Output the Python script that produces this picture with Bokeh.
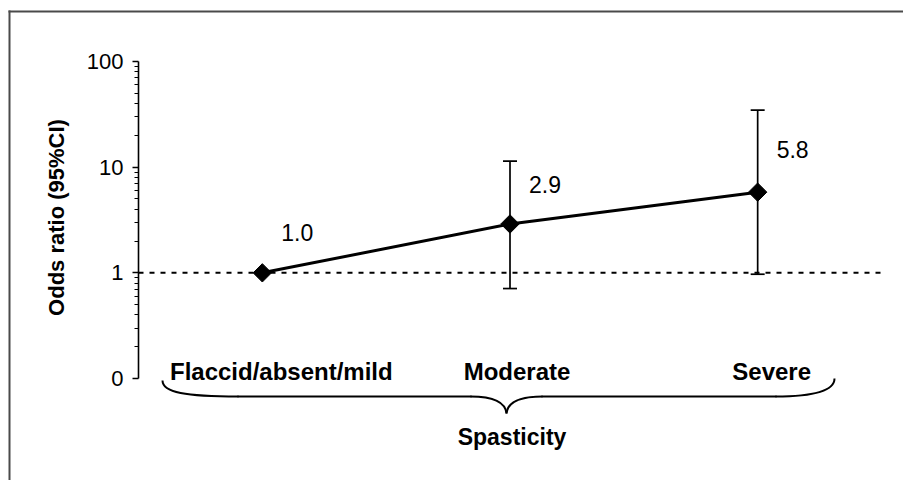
import math
from bokeh.plotting import figure
from bokeh.models import (Range1d, FixedTicker, Whisker, TeeHead,
                          ColumnDataSource)
from bokeh.core.properties import value
from bokeh.embed import file_html
from bokeh.resources import INLINE

# ---------------- data ----------------
categories = ["Flaccid/absent/mild", "Moderate", "Severe"]
odds_ratio = [1.0, 2.9, 5.8]
ci_lower = [1.0, 0.71, 0.97]
ci_upper = [1.0, 11.4, 34.6]
y_ticks = [0.1, 1, 10, 100]
y_tick_labels = ["0", "1", "10", "100"]
y_minor = [0.2, 0.3, 0.4, 0.5, 0.6, 0.7, 0.8, 0.9,
           2, 3, 4, 5, 6, 7, 8, 9, 20, 30, 40, 50, 60, 70, 80, 90]
reference_or = 1.0
x_title = "Spasticity"
y_title = "Odds ratio (95%CI)"

# ---------------- layout (pixels) ----------------
W, H = 903, 480
CAT_L, CAT_R = 138, 881              # pixel extent of the category band
Y_TOP_TICK, Y_BOT_TICK = 61, 378      # pixel y of 100 and 0.1
DEC = (Y_BOT_TICK - Y_TOP_TICK) / 3.0
NCAT = len(categories)


def x_of_px(px):
    return (px - CAT_L) / (CAT_R - CAT_L) * NCAT


def y_of_px(py):
    return 10 ** (math.log10(y_ticks[-1]) - (py - Y_TOP_TICK) / DEC)


FONT = value("Liberation Sans")

p = figure(width=W, height=H,
           x_range=Range1d(x_of_px(0), x_of_px(W)),
           y_range=Range1d(y_of_px(H), y_of_px(0)),
           y_axis_type="log", x_axis_type=None,
           output_backend="svg", toolbar_location=None,
           min_border_left=0, min_border_right=0,
           min_border_top=0, min_border_bottom=0)
p.outline_line_color = None
p.ygrid.visible = False
p.background_fill_color = "white"
p.border_fill_color = "white"

# y axis, pinned at the left edge of the category band
ax = p.yaxis[0]
ax.fixed_location = 0
ax.ticker = FixedTicker(ticks=y_ticks, minor_ticks=y_minor)
ax.major_label_overrides = {t: l for t, l in zip(y_ticks, y_tick_labels)}
ax.bounds = (y_ticks[0], y_ticks[-1])
ax.axis_line_width = 1.6
ax.axis_line_color = "black"
ax.major_tick_in = 0
ax.major_tick_out = 6
ax.minor_tick_in = 0
ax.minor_tick_out = 4
ax.major_tick_line_width = 1.4
ax.minor_tick_line_width = 1.2
ax.major_label_standoff = 9
ax.major_label_text_font = "Liberation Sans"
ax.major_label_text_font_size = "22px"
ax.major_label_text_color = "black"

# outer frame: only its top and left edges fall inside the picture
p.segment(x0=[x_of_px(9), x_of_px(8)], y0=[y_of_px(10), y_of_px(11)],
          x1=[x_of_px(9), x_of_px(W)], y1=[y_of_px(H), y_of_px(11)],
          line_color="#4a4a4a", line_width=2, line_cap="butt")

# reference line at OR = 1
p.segment(x0=[0], x1=[NCAT], y0=[reference_or], y1=[reference_or],
          line_color="black", line_width=2, line_dash="5 6")

xs = [i + 0.5 for i in range(NCAT)]

# error bars
eb = [(x, lo, hi) for x, lo, hi in zip(xs, ci_lower, ci_upper) if hi > lo]
err_src = ColumnDataSource(dict(x=[e[0] for e in eb], lo=[e[1] for e in eb],
                                hi=[e[2] for e in eb]))
p.add_layout(Whisker(source=err_src, base="x", lower="lo", upper="hi",
                     dimension="height", line_width=1.7, line_color="black",
                     upper_head=TeeHead(size=14, line_width=1.7, line_color="black"),
                     lower_head=TeeHead(size=14, line_width=1.7, line_color="black")))

src = ColumnDataSource(dict(x=xs, y=odds_ratio,
                            lab=[f"{v:.1f}" for v in odds_ratio],
                            dy=[-40, -39, -43]))
p.line("x", "y", source=src, line_width=3, line_color="black")
p.scatter("x", "y", source=src, marker="square", angle=math.pi / 4, size=13,
          fill_color="black", line_color="black")
p.text("x", "y", text="lab", source=src, x_offset=19, y_offset="dy",
       text_align="left", text_baseline="middle", text_font=FONT,
       text_font_size="23px", text_color="black")

# category labels
cat_src = ColumnDataSource(dict(x=xs, y=[y_of_px(371)] * NCAT, t=categories,
                                dx=[19, 7, 14]))
p.text("x", "y", text="t", source=cat_src, x_offset="dx", text_align="center",
       text_baseline="middle", text_font=FONT, text_font_size="24px",
       text_font_style="bold", text_color="black")

# curly brace grouping the categories
curves = [  # (start, c0, c1, end) in pixels
    ((162, 380), (162, 392), (185, 396), (238, 396)),
    ((470, 396), (495, 396), (505, 403), (506, 413)),
    ((506, 413), (507, 403), (517, 396), (542, 396)),
    ((775, 396), (815, 396), (834, 390), (834, 378)),
]
bz = dict(x0=[], y0=[], cx0=[], cy0=[], cx1=[], cy1=[], x1=[], y1=[])
for s, c0, c1, e in curves:
    bz["x0"].append(x_of_px(s[0])); bz["y0"].append(y_of_px(s[1]))
    bz["cx0"].append(x_of_px(c0[0])); bz["cy0"].append(y_of_px(c0[1]))
    bz["cx1"].append(x_of_px(c1[0])); bz["cy1"].append(y_of_px(c1[1]))
    bz["x1"].append(x_of_px(e[0])); bz["y1"].append(y_of_px(e[1]))
p.bezier(source=ColumnDataSource(bz), x0="x0", y0="y0", x1="x1", y1="y1",
         cx0="cx0", cy0="cy0", cx1="cx1", cy1="cy1",
         line_color="black", line_width=2)
p.segment(x0=[x_of_px(237), x_of_px(541)], y0=[y_of_px(396)] * 2,
          x1=[x_of_px(471), x_of_px(776)], y1=[y_of_px(396)] * 2,
          line_color="black", line_width=2)

p.text(x=[NCAT / 2], y=[y_of_px(436)], text=[x_title], x_offset=2,
       text_align="center", text_baseline="middle", text_font=FONT,
       text_font_size="23px", text_font_style="bold", text_color="black")

# y axis title
p.text(x=[x_of_px(56)], y=[y_of_px(217)], text=[y_title], angle=math.pi / 2,
       text_align="center", text_baseline="middle", text_font=FONT,
       text_font_size="22px", text_font_style="bold", text_color="black")

html = file_html(p, INLINE)
html = html.replace("</head>", "<style>html, body { overflow: hidden; }</style></head>", 1)
open("out.html", "w").write(html)
